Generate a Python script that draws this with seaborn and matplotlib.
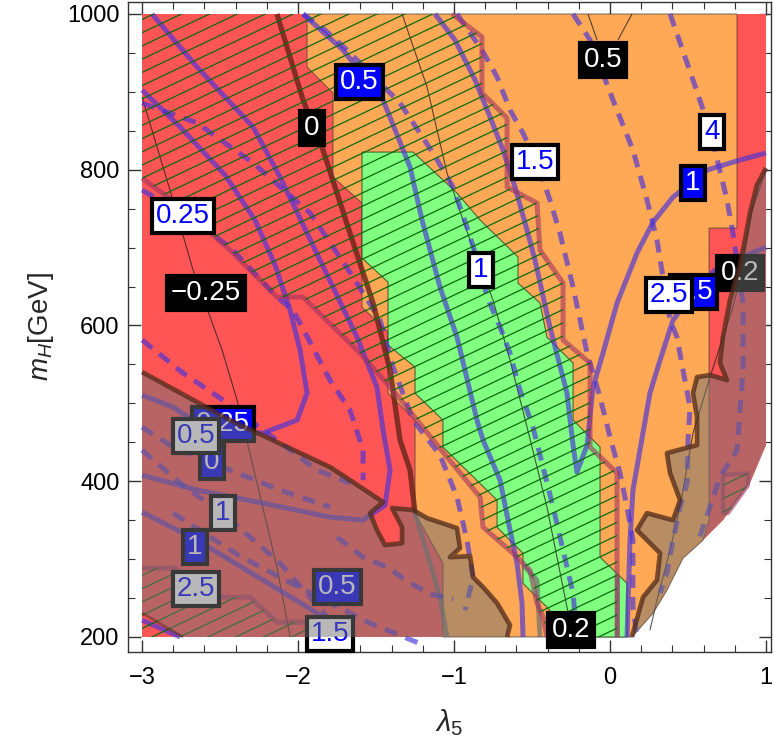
import numpy as np
import matplotlib
matplotlib.use("Agg")
import matplotlib.pyplot as plt
import seaborn as sns
from matplotlib.patches import Polygon
from matplotlib.collections import LineCollection
from matplotlib.ticker import MultipleLocator

sns.set_theme(style="white")
plt.rcParams['font.family'] = ['Liberation Sans', 'DejaVu Sans']
plt.rcParams['mathtext.fontset'] = 'custom'
plt.rcParams['mathtext.rm'] = 'Liberation Sans'
plt.rcParams['mathtext.it'] = 'Liberation Sans:italic'

# ---------------- regions (lambda5, m_H) ----------------
red_lam5 = [-3, 1, 1, 0.897, 0.724, 0.596, 0.468, 0.365, 0.276, 0.141, -3]
red_mH = [1000, 1000, 446.4, 397.6, 350, 324.3, 301.2, 260.1, 230.6, 200, 200]

orange_lam5 = [-1.942, -1.942, -1.776, -1.776, -1.590, -1.590, -1.423, -1.423, -1.25, -1.25,
               -1.071, -1.071, 0.141, 0.276, 0.365, 0.468, 0.596, 0.635, 0.635, 0.814, 0.814]
orange_mH = [1000, 931.9, 898.5, 790.6, 757.2, 623.6, 591.5, 513.2, 478.5, 359,
             294.8, 200, 200, 230.6, 260.1, 301.2, 324.3, 350, 725, 725, 1000]

green_lam5 = [-1.590, -1.263, -0.981, -0.833, -0.590, -0.590, -0.449, -0.404, -0.237, -0.237,
              -0.064, -0.064, 0.109, 0.109, -0.385, -0.385, -0.558, -0.558, -0.724, -0.724,
              -1.071, -1.071, -1.25, -1.25, -1.423, -1.423, -1.590]
green_mH = [822.7, 822.7, 770, 735.4, 688, 654.5, 628.8, 585, 551.7, 478.5,
            443.8, 302.5, 269, 200, 200, 234.4, 269, 307.6, 341, 375.7,
            443.8, 478.5, 513, 546.6, 574.8, 655.8, 686.6]

hatch_lam5 = [-3, -1.013, -0.821, -0.821, -0.660, -0.660, -0.468, -0.449, -0.301, -0.301,
              -0.128, -0.128, 0.045, 0.045, -0.404, -0.429, -0.468, -0.513, -0.622, -0.814,
              -0.833, -1.071, -1.237, -1.365, -1.603, -1.968, -2.135, -2.436, -2.724, -3]
hatch_mH = [1000, 1000, 970.5, 898.5, 866.4, 777.8, 757.2, 696.9, 654.5, 581.3,
            551.7, 443.8, 410.4, 200, 200, 225.5, 243.4, 285.8, 307.6, 341,
            379.6, 437.4, 478.5, 510.6, 564.6, 636.5, 636.5, 696.9, 748.2, 789.3]

hatch2_lam5 = [-3, -2.788, -2.5, -2.308, -2.135, -1.923, -1.872, -3]
hatch2_mH = [288.4, 288.4, 251.1, 251.1, 219, 219, 200, 200]

hatch3_lam5 = [0.724, 0.885, 0.885, 0.756, 0.724]
hatch3_mH = [407.8, 410.4, 394.9, 359, 359]

brownL_lam5 = [-3, -2.436, -1.795, -1.667, -1.455, -1.538, -1.494, -1.442, -1.333, -1.333,
               -1.397, -1.263, -1.173, -0.981, -0.962, -1.026, -0.897, -0.878, -0.814, -0.724,
               -0.641, -0.660, -2.737, -3]
brownL_mH = [540.2, 478.5, 418.1, 401.4, 373.2, 359.1, 337.2, 318, 320.5, 341,
             365.5, 363, 352.6, 339.8, 314.1, 302.5, 303.8, 276.8, 264, 243.4,
             215.2, 200, 200, 230.6]

brownR_lam5 = [1, 0.942, 0.897, 0.865, 0.833, 0.769, 0.724, 0.705, 0.750, 0.641,
               0.558, 0.532, 0.558, 0.558, 0.365, 0.385, 0.449, 0.404, 0.237, 0.173,
               0.321, 0.301, 0.212, 0.179, 0.141, 0.276, 0.365, 0.468, 0.596, 0.724,
               0.897, 1]
brownR_mH = [802.2, 780.4, 744.4, 709.7, 677.6, 632.6, 585.1, 551.7, 529.9, 536.3,
             533.7, 513.2, 482.3, 446.4, 436.1, 410.4, 375.7, 350, 359, 337.2,
             307.6, 273, 251.1, 228, 200, 230.6, 260.1, 301.2, 324.3, 350,
             397.6, 446.4]

# ---------------- contour lines ----------------
solid_lines = {
    "S1": ([-1.968, -1.712, -1.455, -1.282, -1.205, -1.090, -0.981, -0.853, -0.814, -0.705, -0.641, -0.596, -0.564, -0.558],
           [1000, 953.8, 889.5, 803.5, 735.4, 649.3, 585.1, 478.5, 452.8, 401.4, 337.2, 294.8, 243.4, 200]),
    "S2": ([-1.122, -0.994, -0.865, -0.769, -0.686, -0.609, -0.532, -0.481, -0.385, -0.276, -0.237, -0.212,
            -0.147, -0.109, -0.045, 0.045, 0.173, 0.276, 0.404, 0.622, 0.833, 1.0],
           [1000, 966.6, 915.2, 867.7, 825.3, 777.8, 722.5, 684, 598, 513.2, 446.4, 411.7,
            446.4, 520.9, 564.6, 628.8, 693, 732.8, 764.9, 799.6, 812.5, 821.5]),
    "S3": ([1.0, 0.833, 0.673, 0.538, 0.404, 0.321, 0.256, 0.192, 0.147, 0.128, 0.109],
           [700.7, 686.6, 671.2, 643.1, 606.9, 555.6, 513.2, 440, 388.6, 324.3, 200]),
    "S4": ([-3, -2.756, -2.468, -2.276, -2.147, -2.051, -1.987, -1.942, -2.006, -2.224, -2.436, -2.628, -2.801, -3],
           [902.4, 854.9, 793.2, 735.4, 677.6, 619.8, 568.4, 513.2, 478.5, 461.8, 463.1, 472.1, 495.2, 510.6]),
    "S5": ([-2.936, -2.647, -2.288, -2.115, -1.942, -1.776, -1.622, -1.494, -1.455, -1.410, -1.442, -1.583,
            -1.795, -2.224, -2.647, -3],
           [1000, 931.9, 854.9, 790.6, 718.7, 649.3, 585.1, 520.9, 465.6, 414.3, 369.3, 350,
            353.9, 371.8, 388.6, 407.8]),
    "S6": ([-3, -2.647, -2.224, -1.878, -1.699], [360.3, 324.3, 273, 230.6, 200]),
    "S7": ([-3, -2.756], [221.6, 200]),
}
dashed_lines = {
    "Db": ([-0.237, -0.128, 0.019, 0.147, 0.237, 0.301, 0.353, 0.385, 0.429, 0.468, 0.513, 0.5, 0.494,
            0.449, 0.404, 0.365, 0.321],
           [1000, 966.6, 889.5, 825.3, 761.1, 709.7, 645.5, 606.9, 585.1, 542.7, 495.2, 452.8, 397.6,
            366.7, 324.3, 282, 256.3]),
    "Dc": ([0.385, 0.532, 0.641, 0.750, 0.788, 0.853, 0.853, 0.814, 0.705, 0.596, 0.558],
           [1000, 915.2, 851, 761.1, 718.7, 628.8, 542.7, 440, 405.3, 341, 318]),
    "De": ([-0.981, -0.821, -0.724, -0.641, -0.558, -0.468, -0.385, -0.321, -0.237, -0.147, -0.064, 0,
            0.064, 0.109, 0.147, 0.147, 0.173],
           [1000, 953.8, 919.1, 876.7, 847.1, 808.6, 761.1, 718.7, 649.3, 564.5, 508, 456.7,
            410.4, 366.7, 324.3, 238.3, 200]),
    "Df": ([-1.968, -1.827, -1.686, -1.346, -1.135, -1.006, -0.917, -0.833, -0.788, -0.705, -0.641, -0.577,
            -0.494, -0.429, -0.365, -0.301, -0.237, -0.212],
           [1000, 979.4, 953.8, 885.7, 821.5, 777.8, 726.4, 673.7, 636.5, 598, 564.5, 517,
            469.5, 418.1, 366.7, 311.5, 256.3, 200]),
    "Dg": ([-3, -2.647, -2.288, -1.923, -1.750, -1.647, -1.474, -1.391, -1.263, -1.090, -0.981, -0.917,
            -0.878, -0.929],
           [885.7, 860, 808.6, 744.4, 693, 662.2, 606.9, 546.6, 478.5, 433.5, 379.6, 324.3,
            276.8, 234.4]),
    "Di": ([-3, -2.724, -2.436, -2.135, -2.032, -1.795, -1.667, -1.583, -1.583],
           [773.9, 741.8, 700.7, 636.5, 619.8, 529.9, 491.3, 440, 401.4]),
    "Dj": ([-3, -2.737, -2.5, -2.224, -1.878, -1.667], [581.3, 538.9, 506.8, 465.6, 414.3, 397.6]),
    "Dk": ([-3, -2.801, -2.436, -2.115, -1.795], [469.5, 443.8, 414.3, 388.6, 366.7]),
    "Dl": ([-3, -2.756, -2.455, -2.115, -1.923, -1.795], [440, 397.6, 353.9, 294.8, 251.1, 221.6]),
    "Dm": ([-2.801, -2.372, -2.006, -1.538, -1.199], [359, 303.8, 265.3, 217.7, 190]),
    "Do": ([-1.750, -1.583, -1.429, -1.301, -1.154, -1.006], [328.2, 302.5, 289.7, 271.7, 255, 248.6]),
}
thin_lines = {
    "T1": ([-3, -2.821, -2.673, -2.487, -2.391, -2.263, -2.135, -2.051],
           [893.4, 773.9, 671.2, 568.4, 504.2, 397.6, 289.7, 200]),
    "T2": ([-1.333, -1.173, -1.045, -0.942, -0.897, -0.750, -0.641, -0.532, -0.404, -0.276, -0.237],
           [1000, 906.2, 795.8, 735.4, 709.7, 632.6, 555.6, 469.5, 366.7, 238.3, 200]),
    "T3a": ([-0.141, -0.083], [1000, 966.6]),
    "T3b": ([0.141, 0.051], [1000, 966.6]),
    "T4": ([1, 0.910, 0.846, 0.788, 0.641, 0.532, 0.449, 0.385, 0.301, 0.256],
           [799.6, 748.2, 671.2, 623.6, 533.7, 461.8, 366.7, 311.5, 247.3, 208.7]),
}
zero_lam5 = [-2.135, -1.968, -1.840, -1.667, -1.519, -1.410, -1.346, -1.282, -1.25]
zero_mH = [1000, 889.5, 825.3, 718.7, 628.8, 542.7, 452.8, 414.3, 359]
gray_lines = {
    "G1": ([-1.25, -1.154, -1.090, -1.045], [359, 294.8, 251.1, 200]),
    "G2": ([-0.558, -0.468, -0.449], [292.3, 273, 200]),
    "G3": ([0.045, 0.045], [279.4, 200]),
}

# ---------------- labels ----------------
lbl_text = ["0.5", "0", "0.25", "\u22120.25", "1.5", "0.5", "4", "1", "1", "1.5", "2.5", "0.2", "0.2",
            "0.25", "0", "0.5", "1", "1", "2.5", "0.5", "1.5"]
lbl_lam5 = [-1.609, -1.910, -2.737, -2.590, -0.481, -0.045, 0.654, 0.532, -0.827, 0.538, 0.378, 0.833, -0.250,
            -2.481, -2.551, -2.654, -2.481, -2.660, -2.654, -1.750, -1.795]
lbl_mH = [912.7, 853.6, 740.5, 641.6, 809.9, 940.9, 848.4, 782.9, 671.2, 643.1, 639.0, 667.3, 208.7,
          473.4, 424.5, 457.9, 359.0, 315.4, 261.4, 264.0, 203.6]
lbl_kind = ["blue", "black", "white", "black", "white", "black", "white", "blue", "white", "blue", "white",
            "black", "black", "blue", "blue", "white", "white", "blue", "white", "blue", "white"]
lbl_shaded = [False] * 11 + [True, False] + [True] * 8

x_ticks = [-3, -2, -1, 0, 1]
y_ticks = [200, 400, 600, 800, 1000]

# ---------------- figure ----------------
fig = plt.figure(figsize=(7.74, 7.5), dpi=100)
ax = fig.add_axes([128 / 774, 1 - 652 / 750, 643 / 774, 650 / 750])

C_RED = "#FF5555"
C_ORANGE = "#FFA855"
C_GREEN = "#80FF80"


def poly(xs, ys, **kw):
    p = Polygon(np.column_stack([xs, ys]), closed=True, **kw)
    ax.add_patch(p)
    return p


poly(red_lam5, red_mH, facecolor=C_RED, edgecolor="none", zorder=1)
poly(orange_lam5, orange_mH, facecolor=C_ORANGE, edgecolor=(0.2, 0.2, 0.2, 0.6), lw=0.8, zorder=2)
poly(green_lam5, green_mH, facecolor=C_GREEN, edgecolor=(0.1, 0.2, 0.1, 0.7), lw=0.8, zorder=3)


def draw(xs, ys, color, lw, alpha, z, dashed=False):
    sns.lineplot(x=list(xs), y=list(ys), sort=False, estimator=None, color=color, lw=lw,
                 alpha=alpha, zorder=z, ax=ax, legend=False)
    ln = ax.lines[-1]
    ln.set_solid_capstyle("butt")
    if dashed:
        ln.set_dashes([2.6, 1.8])
    return ln


BLUE = (70 / 255, 50 / 255, 220 / 255)
for xs, ys in thin_lines.values():
    draw(xs, ys, (0.12, 0.12, 0.12), 0.8, 0.75, 4.5)
for xs, ys in gray_lines.values():
    draw(xs, ys, (0.43, 0.43, 0.43), 3.4, 0.7, 5)
for xs, ys in dashed_lines.values():
    draw(xs, ys, BLUE, 3.6, 0.65, 5.5, dashed=True)
for xs, ys in solid_lines.values():
    draw(xs, ys, BLUE, 3.6, 0.65, 5.6)
draw(zero_lam5, zero_mH, (0.4, 0.14, 0.1), 3.8, 0.8, 5.8)

# hatching
hatch_slope = 95.0
hatch_step = 17.0
hx = np.array([-3.3, 1.3])
for hxs, hys in [(hatch_lam5, hatch_mH), (hatch2_lam5, hatch2_mH), (hatch3_lam5, hatch3_mH)]:
    clip = poly(hxs, hys, fill=False, edgecolor="none", zorder=0)
    segs = [np.column_stack([hx, c + hatch_slope * (hx + 3)]) for c in np.arange(-520, 1100, hatch_step)]
    lc = LineCollection(segs, colors="#0c6a0c", linewidths=0.9, zorder=6.5)
    ax.add_collection(lc, autolim=False)
    lc.set_clip_path(clip)

PINK = (160 / 255, 50 / 255, 100 / 255)
draw(hatch_lam5[1:14], hatch_mH[1:14], PINK, 3.6, 0.6, 6)
draw(hatch_lam5[14:], hatch_mH[14:], PINK, 3.6, 0.6, 6)
draw(hatch2_lam5[:7], hatch2_mH[:7], PINK, 3.6, 0.6, 6)
draw(hatch3_lam5 + hatch3_lam5[:1], hatch3_mH + hatch3_mH[:1], PINK, 3.0, 0.6, 6)

# labels
box_fc = {"blue": "#0000FF", "white": "white", "black": "black"}
txt_c = {"blue": "white", "white": "#0000FF", "black": "white"}
for t, lx, ly, k, sh in zip(lbl_text, lbl_lam5, lbl_mH, lbl_kind, lbl_shaded):
    ax.text(lx, ly, t, ha="center", va="center", fontsize=20, color=txt_c[k],
            bbox=dict(boxstyle="square,pad=0.15", fc=box_fc[k], ec="black", lw=3),
            zorder=7.5 if sh else 9)

# excluded (grey) overlays
BROWN_EDGE = (0.32, 0.17, 0.1)
poly(brownL_lam5, brownL_mH, facecolor=(0.45, 0.45, 0.45, 0.5), edgecolor="none", zorder=8)
poly(brownR_lam5, brownR_mH, facecolor=(0.45, 0.45, 0.45, 0.5), edgecolor="none", zorder=8)
draw(brownL_lam5[:22], brownL_mH[:22], BROWN_EDGE, 3.4, 0.75, 8.5)
draw(brownL_lam5[22:], brownL_mH[22:], BROWN_EDGE, 2.0, 0.5, 8.5)
draw(brownR_lam5[:25], brownR_mH[:25], BROWN_EDGE, 3.4, 0.75, 8.5)

# axes
ax.set_xlim(-3.09, 1.032)
ax.set_ylim(180.7, 1015.4)
ax.set_facecolor("white")
ax.set_xticks(x_ticks)
ax.set_yticks(y_ticks)
ax.xaxis.set_minor_locator(MultipleLocator(0.2))
ax.yaxis.set_minor_locator(MultipleLocator(50))
ax.tick_params(which="both", direction="in", top=True, right=True, bottom=True, left=True,
               color="#333333", labelcolor="black", labelsize=17)
ax.tick_params(which="major", length=9, width=1)
ax.tick_params(which="minor", length=5, width=0.8)
ax.tick_params(axis="x", which="major", pad=11)
ax.tick_params(axis="y", which="major", pad=6)
for s in ax.spines.values():
    s.set_color("#333333")
    s.set_linewidth(1.0)
ax.grid(False)
ax.set_xlabel(r"$\lambda_5$", fontsize=21, labelpad=13)
ax.set_ylabel(r"$m_H$[GeV]", fontsize=20, labelpad=8)

fig.savefig("out.png", dpi=100)
